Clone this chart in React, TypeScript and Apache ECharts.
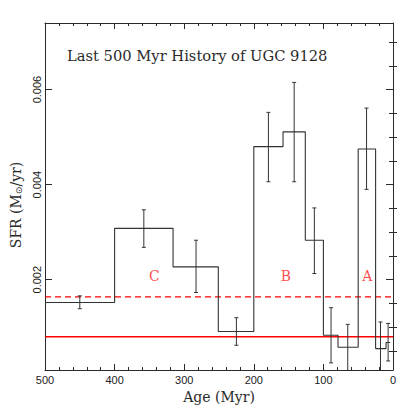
import React, { useEffect, useRef } from "react";
import * as echarts from "echarts";

// Bin edges (Myr) and SFR values
const binEdges = [500, 400, 316, 251, 200, 158, 126, 100, 79, 50, 25, 10, 4];
const sfrValues = [0.00152, 0.00308, 0.00227, 0.00091, 0.0048, 0.00511, 0.00283, 0.00083, 0.00058, 0.00475, 0.00055, 0.00068];
const errAges = [450, 358, 283, 225, 179, 142, 113, 89, 65, 38, 18, 7];
const errLow = [0.00139, 0.00268, 0.00173, 0.00062, 0.00406, 0.00406, 0.00213, 0.00025, 0.0, 0.0039, 0.0, 0.00029];
const errHigh = [0.00166, 0.00347, 0.00283, 0.0012, 0.00552, 0.00615, 0.00351, 0.00141, 0.00106, 0.00561, 0.00111, 0.00108];
const dashedLevel = 0.00164;
const solidLevel = 0.0008;
const regionNames = ["C", "B", "A"];
const regionAges = [343, 154, 37];
const regionSFR = [0.00208, 0.00208, 0.00208];
const yMajorTicks = [0.002, 0.004, 0.006];
const yMinorTicks = [0.0005, 0.001, 0.0015, 0.0025, 0.003, 0.0035, 0.0045, 0.005, 0.0055, 0.0065, 0.007];
const xRange = [0, 500];
const yRange = [0.0001, 0.0074];

const ink = "#2a2a2a";

export default function App() {
  const ref = useRef<HTMLDivElement>(null);
  useEffect(() => {
    if (!ref.current) return;
    const chart = echarts.init(ref.current, null, { renderer: "svg" });

    const histPoints: number[][] = [];
    for (let i = 0; i < sfrValues.length; i++) {
      histPoints.push([binEdges[i], sfrValues[i]]);
      histPoints.push([binEdges[i + 1], sfrValues[i]]);
    }
    const errData = errAges.map((a, i) => [a, errLow[i], errHigh[i]]);

    const sansLabel = { fontFamily: "Liberation Sans", fontSize: 11, color: "#222" };

    const yBase = {
      type: "value" as const,
      min: yRange[0],
      max: yRange[1],
      splitLine: { show: false },
      axisLine: { show: true, onZero: false, lineStyle: { color: ink, width: 1 } },
    };

    const xBase = {
      type: "value" as const,
      min: xRange[0],
      max: xRange[1],
      inverse: true,
      interval: 100,
      splitLine: { show: false },
      axisLine: { show: true, onZero: false, lineStyle: { color: ink, width: 1 } },
      axisTick: { show: true, inside: true, length: 6, lineStyle: { color: ink } },
      minorTick: { show: true, splitNumber: 5, length: 3, lineStyle: { color: ink } },
    };

    chart.setOption({
      animation: false,
      backgroundColor: "#ffffff",
      title: {
        text: "Last 500 Myr History of UGC 9128",
        left: 62,
        top: 43,
        textStyle: { fontFamily: "DejaVu Serif", fontSize: 14.7, fontWeight: "normal", color: "#2a2a2a" },
      },
      grid: { left: 45, right: 22, top: 23, bottom: 45 },
      xAxis: [
        {
          ...xBase,
          position: "bottom",
          axisLabel: { ...sansLabel, margin: 4 },
          name: "Age (Myr)",
          nameLocation: "middle",
          nameGap: 17,
          nameTextStyle: { fontFamily: "DejaVu Serif", fontSize: 14, color: "#2a2a2a" },
        },
        {
          ...xBase,
          position: "top",
          axisLabel: { show: false },
        },
      ],
      yAxis: [
        {
          ...yBase,
          position: "left",
          axisTick: { show: true, inside: true, length: 7, customValues: yMajorTicks, lineStyle: { color: ink } },
          axisLabel: {
            ...sansLabel,
            customValues: yMajorTicks,
            rotate: 90,
            margin: 3,
            formatter: (v: number) => v.toFixed(3),
          },
          name: "SFR (M{sub|⊙}/yr){pad|}",
          nameLocation: "middle",
          nameRotate: 90,
          nameGap: 22,
          nameTextStyle: {
            fontFamily: "DejaVu Serif",
            fontSize: 14,
            color: "#2a2a2a",
            rich: {
              sub: { fontFamily: "DejaVu Sans", fontSize: 9, color: "#2a2a2a", verticalAlign: "bottom", lineHeight: 8 },
              pad: { width: 17 },
            },
          },
        },
        {
          ...yBase,
          position: "right",
          axisTick: { show: true, inside: true, length: 7, customValues: yMajorTicks, lineStyle: { color: ink } },
          axisLabel: { show: false },
        },
        {
          ...yBase,
          position: "left",
          axisLine: { show: false },
          axisTick: { show: true, inside: true, length: 4, customValues: yMinorTicks, lineStyle: { color: ink } },
          axisLabel: { show: false },
        },
        {
          ...yBase,
          position: "right",
          axisLine: { show: false },
          axisTick: { show: true, inside: true, length: 4, customValues: yMinorTicks, lineStyle: { color: ink } },
          axisLabel: { show: false },
        },
      ],
      series: [
        {
          type: "line",
          data: [
            [xRange[1], solidLevel],
            [xRange[0], solidLevel],
          ],
          showSymbol: false,
          lineStyle: { color: "#ff0000", width: 1.5 },
          z: 3,
        },
        {
          type: "line",
          data: [
            [xRange[1], dashedLevel],
            [xRange[0], dashedLevel],
          ],
          showSymbol: false,
          lineStyle: { color: "#ff0000", width: 1.3, type: [6, 4] },
          z: 3,
        },
        {
          type: "line",
          data: histPoints,
          showSymbol: false,
          clip: true,
          lineStyle: { color: "#333", width: 1.1 },
          z: 4,
        },
        {
          type: "custom",
          data: errData,
          clip: true,
          z: 5,
          renderItem: (params: any, api: any) => {
            const x = api.value(0);
            const lo = api.value(1);
            const hi = api.value(2);
            const p1 = api.coord([x, hi]);
            const p2 = api.coord([x, lo]);
            const w = 2;
            const style = { stroke: "#333", lineWidth: 1 };
            return {
              type: "group",
              children: [
                { type: "line", shape: { x1: p1[0], y1: p1[1], x2: p2[0], y2: p2[1] }, style },
                { type: "line", shape: { x1: p1[0] - w, y1: p1[1], x2: p1[0] + w, y2: p1[1] }, style },
                { type: "line", shape: { x1: p2[0] - w, y1: p2[1], x2: p2[0] + w, y2: p2[1] }, style },
              ],
            };
          },
        },
        {
          type: "scatter",
          symbolSize: 0,
          data: regionNames.map((n, i) => ({ name: n, value: [regionAges[i], regionSFR[i]] })),
          label: {
            show: true,
            position: "inside",
            formatter: (p: any) => p.name,
            fontFamily: "DejaVu Serif",
            fontSize: 14,
            color: "#ff1a1a",
          },
          z: 6,
        },
      ],
    });
    return () => chart.dispose();
  }, []);
  return <div ref={ref} style={{ position: "fixed", left: 0, top: 0, width: 415, height: 415 }} />;
}
